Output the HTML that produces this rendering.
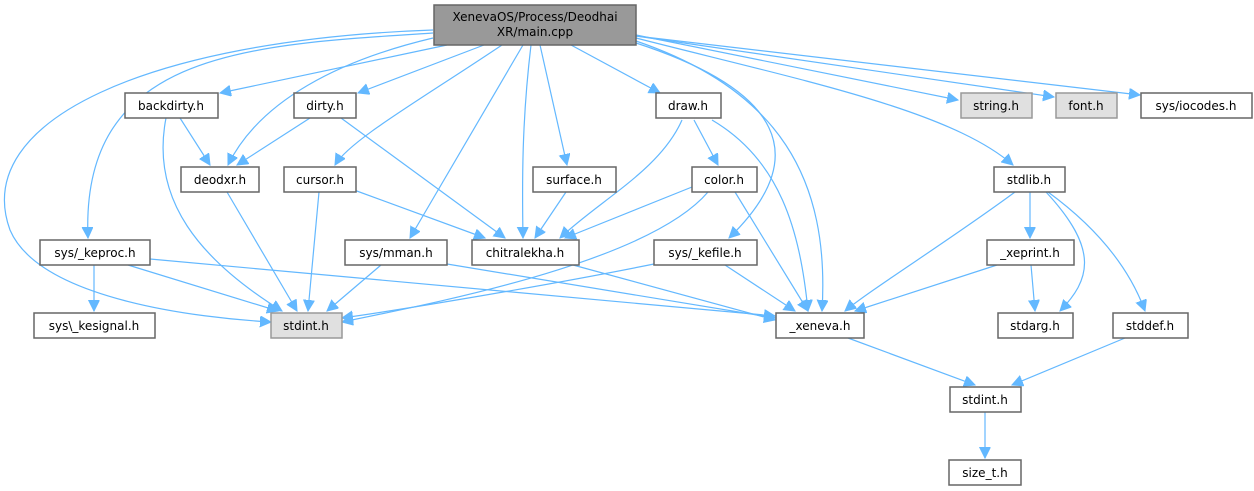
<!DOCTYPE html>
<html><head><meta charset="utf-8"><style>
html,body{margin:0;padding:0;background:#fff;}
svg{display:block;}
text{font-family:"DejaVu Sans","Liberation Sans",sans-serif;font-size:12px;fill:#000;text-anchor:middle;}
.n{fill:#fff;stroke:#666;stroke-width:1.5;}
.g{fill:#e0e0e0;stroke:#999;stroke-width:1.5;}
.e{fill:none;stroke:#63b8ff;stroke-width:1.2;marker-end:url(#a);}
</style></head><body>
<svg width="1254" height="491" viewBox="0 0 1254 491" xmlns="http://www.w3.org/2000/svg">
<defs><marker id="a" markerUnits="userSpaceOnUse" markerWidth="14" markerHeight="14" refX="11" refY="5.5" orient="auto"><path d="M0,0 L11,5.5 L0,11 z" fill="#63b8ff" stroke="#63b8ff"/></marker></defs>
<path class="e" d="M447,45 L220,93"/>
<path class="e" d="M433,38 C340,60 260,100 228,165"/>
<path class="e" d="M484,45 L358,93"/>
<path class="e" d="M502,45 C420,100 350,140 335,165"/>
<path class="e" d="M523,45 L410,238"/>
<path class="e" d="M531,45 C522,120 522,180 523,238"/>
<path class="e" d="M540,45 L567,165"/>
<path class="e" d="M571,45 L660,93"/>
<path class="e" d="M636,43 C750,80 830,140 729,238"/>
<path class="e" d="M636,41 C780,90 830,180 822,311"/>
<path class="e" d="M636,38 C800,80 950,110 1013,165"/>
<path class="e" d="M636,35 L958,100"/>
<path class="e" d="M636,36 L1054,97"/>
<path class="e" d="M636,36 L1140,95"/>
<path class="e" d="M433,33 C250,45 80,50 88,238"/>
<path class="e" d="M433,30 C150,40 -30,120 10,230 C40,300 200,318 271,322"/>
<path class="e" d="M180,118 L210,165"/>
<path class="e" d="M166,118 C150,200 200,260 282,311"/>
<path class="e" d="M310,118 L237,165"/>
<path class="e" d="M341,118 L505,238"/>
<path class="e" d="M227,192 L297,311"/>
<path class="e" d="M319,192 L308,311"/>
<path class="e" d="M354,190 L485,238"/>
<path class="e" d="M566,192 L535,238"/>
<path class="e" d="M682,120 C660,170 600,200 560,238"/>
<path class="e" d="M694,120 L718,165"/>
<path class="e" d="M712,120 C780,160 800,230 808,311"/>
<path class="e" d="M692,187 L565,238"/>
<path class="e" d="M708,192 C650,260 450,300 342,322"/>
<path class="e" d="M735,192 L808,311"/>
<path class="e" d="M654,264 C550,285 400,310 342,318"/>
<path class="e" d="M725,265 L795,311"/>
<path class="e" d="M94,265 L94,311"/>
<path class="e" d="M128,265 L278,311"/>
<path class="e" d="M150,259 L775,316"/>
<path class="e" d="M381,265 L327,311"/>
<path class="e" d="M447,264 L775,318"/>
<path class="e" d="M573,265 L775,320"/>
<path class="e" d="M1015,192 C950,240 870,290 845,311"/>
<path class="e" d="M1030,192 L1030,238"/>
<path class="e" d="M1046,192 C1100,250 1090,280 1060,311"/>
<path class="e" d="M1048,192 C1100,230 1130,270 1145,311"/>
<path class="e" d="M997,265 L855,311"/>
<path class="e" d="M1031,265 L1035,311"/>
<path class="e" d="M848,338 L975,385"/>
<path class="e" d="M1125,338 L1012,385"/>
<path class="e" d="M985,412 L985,458"/>
<rect x="434" y="5" width="202" height="40" fill="#999" stroke="#666" stroke-width="1.5"/>
<text x="535" y="21">XenevaOS/Process/Deodhai</text><text x="535" y="36">XR/main.cpp</text>
<rect class="n" x="125" y="93" width="93" height="25"/><text x="171" y="110">backdirty.h</text>
<rect class="n" x="294" y="93" width="62" height="25"/><text x="325" y="110">dirty.h</text>
<rect class="n" x="656" y="93" width="65" height="25"/><text x="688" y="110">draw.h</text>
<rect class="g" x="961" y="93" width="71" height="25"/><text x="996" y="110">string.h</text>
<rect class="g" x="1056" y="93" width="61" height="25"/><text x="1086" y="110">font.h</text>
<rect class="n" x="1141" y="93" width="111" height="25"/><text x="1196" y="110">sys/iocodes.h</text>
<rect class="n" x="181" y="167" width="78" height="25"/><text x="220" y="184">deodxr.h</text>
<rect class="n" x="284" y="167" width="72" height="25"/><text x="320" y="184">cursor.h</text>
<rect class="n" x="533" y="167" width="83" height="25"/><text x="574" y="184">surface.h</text>
<rect class="n" x="692" y="167" width="65" height="25"/><text x="724" y="184">color.h</text>
<rect class="n" x="994" y="167" width="71" height="25"/><text x="1029" y="184">stdlib.h</text>
<rect class="n" x="40" y="240" width="110" height="25"/><text x="95" y="257">sys/_keproc.h</text>
<rect class="n" x="345" y="240" width="102" height="25"/><text x="396" y="257">sys/mman.h</text>
<rect class="n" x="472" y="240" width="107" height="25"/><text x="525" y="257">chitralekha.h</text>
<rect class="n" x="654" y="240" width="103" height="25"/><text x="705" y="257">sys/_kefile.h</text>
<rect class="n" x="987" y="240" width="87" height="25"/><text x="1030" y="257">_xeprint.h</text>
<rect class="n" x="34" y="313" width="121" height="25"/><text x="94" y="330">sys\_kesignal.h</text>
<rect class="g" x="271" y="313" width="71" height="25"/><text x="306" y="330">stdint.h</text>
<rect class="n" x="776" y="313" width="88" height="25"/><text x="820" y="330">_xeneva.h</text>
<rect class="n" x="998" y="313" width="75" height="25"/><text x="1035" y="330">stdarg.h</text>
<rect class="n" x="1113" y="313" width="75" height="25"/><text x="1150" y="330">stddef.h</text>
<rect class="n" x="950" y="387" width="71" height="25"/><text x="985" y="404">stdint.h</text>
<rect class="n" x="949" y="460" width="72" height="25"/><text x="985" y="477">size_t.h</text>
</svg>
</body></html>
